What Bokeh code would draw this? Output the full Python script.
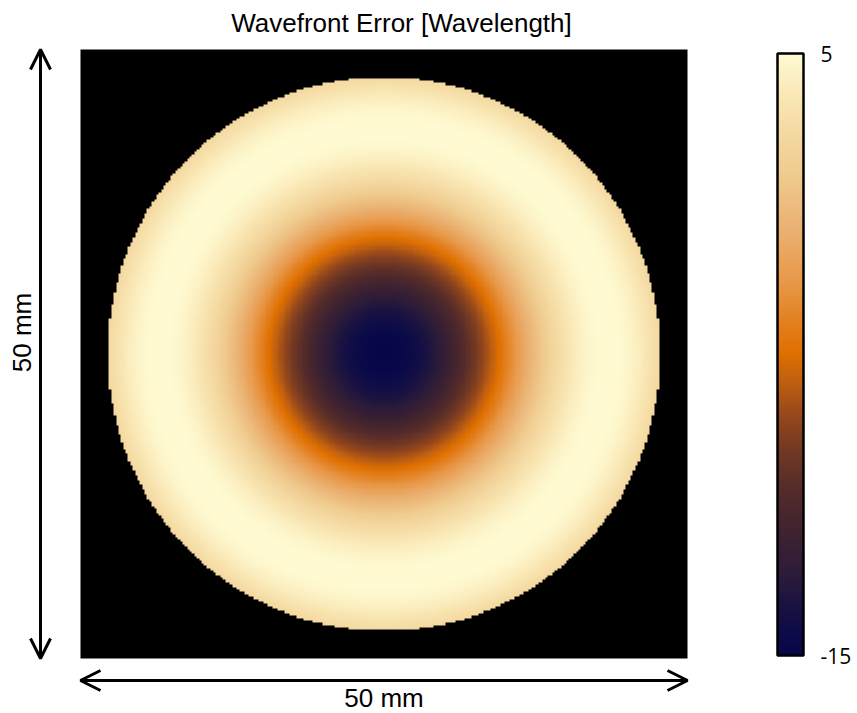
import numpy as np
from math import factorial, pi
from bokeh.plotting import figure
from bokeh.models import (LinearColorMapper, ColorBar, Arrow, OpenHead, Label,
                          FixedTicker)
from bokeh.embed import file_html
from bokeh.resources import INLINE

# ---------------- data ----------------
title_text = "Wavefront Error [Wavelength]"
x_label = "50 mm"
y_label = "50 mm"
grid_size_mm = 50.0          # full width/height of the sampled square
aperture_diameter_mm = 45.5  # clear aperture
grid_n = 256                 # samples per side
# rotationally symmetric Zernike terms (Noll index, radial order) and coefficients [waves]
zernike_noll = [1, 4, 11, 22]
zernike_order = [0, 2, 4, 6]
zernike_coeff = [0.63, 4.34, -3.14, 0.41]
color_low = -15
color_high = 5
colorbar_ticks = [-15, 5]
colorbar_tick_labels = {-15: "-15", 5: "5"}

# ---------------- styling ----------------
W_PX, H_PX = 857, 713
IMG_L, IMG_R, IMG_T, IMG_B = 80, 687, 49, 658
stops = [(0.00, "#06064a"), (0.04, "#0e0c48"), (0.09, "#1c1440"), (0.14, "#2e1c38"),
         (0.22, "#44242e"), (0.29, "#5a2e28"), (0.355, "#7a3c22"), (0.405, "#9a4a1a"),
         (0.455, "#c06010"), (0.505, "#e07000"), (0.555, "#e28020"), (0.62, "#e89848"),
         (0.705, "#eab070"), (0.805, "#f0cc90"), (0.92, "#f8e4b0"), (1.00, "#fffad2")]


def hex2rgb(h):
    return [int(h[i:i + 2], 16) for i in (1, 3, 5)]


pos = np.array([s[0] for s in stops])
rgb = np.array([hex2rgb(s[1]) for s in stops], dtype=float)
t = np.linspace(0, 1, 256)
palette = ["#%02x%02x%02x" % tuple(int(round(np.interp(tt, pos, rgb[:, c]))) for c in range(3))
           for tt in t]

# ---------------- wavefront ----------------
half = grid_size_mm / 2
d = grid_size_mm / grid_n
coords = np.linspace(-half + d / 2, half - d / 2, grid_n)
X, Y = np.meshgrid(coords, coords)
rho = np.sqrt(X ** 2 + Y ** 2) / (aperture_diameter_mm / 2)


def radial(n, r):
    out = np.zeros_like(r)
    for k in range(n // 2 + 1):
        out += ((-1) ** k * factorial(n - k) /
                (factorial(k) * factorial(n // 2 - k) ** 2)) * r ** (n - 2 * k)
    return np.sqrt(n + 1) * out


wf = np.zeros_like(rho)
for n, c in zip(zernike_order, zernike_coeff):
    wf += c * radial(n, rho)
wf[rho > 1] = np.nan

# ---------------- figure ----------------
sx = (IMG_R - IMG_L) / grid_size_mm
sy = (IMG_B - IMG_T) / grid_size_mm
x0 = -half - IMG_L / sx
x1 = half + (W_PX - IMG_R) / sx
y1 = half + IMG_T / sy
y0 = -half - (H_PX - IMG_B) / sy


def px_x(px):
    return x0 + px / sx


def px_y(py):
    return y1 - py / sy


p = figure(width=W_PX, height=H_PX, x_range=(x0, x1), y_range=(y0, y1),
           x_axis_type=None, y_axis_type=None, toolbar_location=None,
           output_backend="svg", min_border=0, outline_line_color=None,
           background_fill_color="white", border_fill_color="white")
p.grid.visible = False

mapper = LinearColorMapper(palette=palette, low=color_low, high=color_high,
                           nan_color="black")
p.image(image=[wf], x=-half, y=-half, dw=grid_size_mm, dh=grid_size_mm,
        color_mapper=mapper)

# dimension arrows
head = dict(size=20, line_width=3, line_color="black")
p.add_layout(Arrow(start=OpenHead(**head), end=OpenHead(**head),
                   x_start=px_x(40), y_start=-half, x_end=px_x(40), y_end=half,
                   line_width=3, line_color="black"))
p.add_layout(Arrow(start=OpenHead(**head), end=OpenHead(**head),
                   x_start=-half, y_start=px_y(680), x_end=half, y_end=px_y(680),
                   line_width=3, line_color="black"))

p.add_layout(Label(x=px_x(21), y=px_y(332), text=y_label, angle=pi / 2,
                   text_align="center", text_baseline="middle",
                   text_font="Liberation Sans", text_font_size="26px", text_color="black"))
p.add_layout(Label(x=0, y=px_y(697), text=x_label,
                   text_align="center", text_baseline="middle",
                   text_font="Liberation Sans", text_font_size="26px", text_color="black"))
p.add_layout(Label(x=px_x(401), y=px_y(22), text=title_text,
                   text_align="center", text_baseline="middle",
                   text_font="Liberation Sans", text_font_size="26px", text_color="black"))

cb = ColorBar(color_mapper=mapper, ticker=FixedTicker(ticks=colorbar_ticks),
              major_label_overrides=colorbar_tick_labels,
              width=26, height=602, location=(777, 58), padding=0,
              bar_line_color="black", bar_line_width=2.5,
              major_tick_line_color=None, minor_tick_line_color=None,
              label_standoff=17, major_label_text_font="Open Sans",
              major_label_text_font_size="21px", major_label_text_color="black",
              background_fill_alpha=0, border_line_color=None)
p.add_layout(cb, "center")

open("out.html", "w").write(file_html(p, INLINE))
